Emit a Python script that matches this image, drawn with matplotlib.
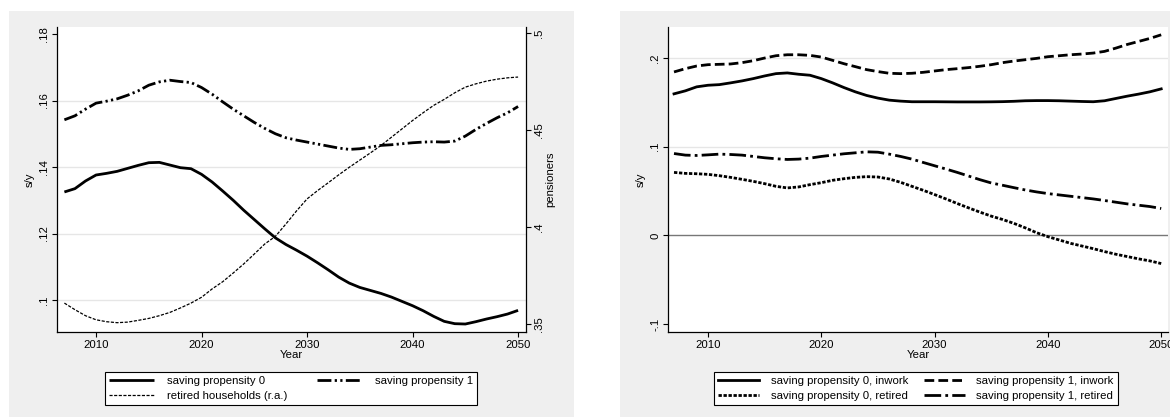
import numpy as np
import matplotlib
matplotlib.use("Agg")
import matplotlib.pyplot as plt
from matplotlib.patches import Rectangle

plt.rcParams['font.family'] = ['Liberation Sans', 'DejaVu Sans']
plt.rcParams['font.size'] = 8.2

years = list(range(2007, 2051))

# left panel: saving rate s/y and share of retired households
sp0 = [.1325, .1335, .1358, .1376, .1381, .1387, .1396, .1405, .1413, .1414,
       .1406, .1398, .1395, .1378, .1355, .1328, .1300, .1270, .1242, .1214,
       .1187, .1167, .1150, .1132, .1112, .1091, .1069, .1051, .1038, .1029,
       .1020, .1009, .0996, .0983, .0968, .0951, .0936, .0929, .0928, .0935,
       .0943, .0950, .0958, .0969]
sp1 = [.1542, .1554, .1574, .1592, .1598, .1605, .1616, .1629, .1646, .1656,
       .1661, .1657, .1654, .1639, .1619, .1596, .1574, .1554, .1534, .1516,
       .1500, .1488, .1481, .1475, .1469, .1463, .1457, .1453, .1455, .1460,
       .1465, .1467, .1470, .1473, .1475, .1476, .1475, .1478, .1493, .1513,
       .1531, .1548, .1563, .1582]
retired = [.3608, .3574, .3543, .3522, .3512, .3507, .3510, .3519, .3529, .3543,
           .3560, .3583, .3608, .3638, .3681, .3718, .3763, .3810, .3861, .3913,
           .3952, .4016, .4083, .4145, .4188, .4228, .4269, .4308, .4345, .4382,
           .4420, .4463, .4506, .4549, .4589, .4627, .4658, .4692, .4721, .4738,
           .4752, .4762, .4769, .4773]

# right panel: s/y by household type
sp0_inwork = [.1596, .1630, .1675, .1693, .1700, .1720, .1742, .1768, .1798, .1824,
              .1832, .1817, .1806, .1768, .1720, .1667, .1619, .1578, .1548, .1525,
              .1514, .1507, .1507, .1507, .1506, .1505, .1505, .1505, .1506, .1508,
              .1512, .1518, .1520, .1520, .1518, .1514, .1510, .1507, .1518, .1544,
              .1570, .1593, .1619, .1652]
sp1_inwork = [.1843, .1880, .1910, .1925, .1929, .1933, .1948, .1970, .2000, .2026,
              .2037, .2037, .2030, .2011, .1974, .1936, .1903, .1869, .1847, .1828,
              .1824, .1828, .1839, .1854, .1869, .1880, .1892, .1907, .1925, .1948,
              .1966, .1981, .1996, .2015, .2026, .2037, .2045, .2056, .2075, .2112,
              .2153, .2187, .2221, .2262]
sp0_retired = [.0710, .0699, .0695, .0688, .0673, .0654, .0632, .0609, .0583, .0553,
               .0535, .0546, .0572, .0594, .0621, .0639, .0654, .0662, .0658, .0636,
               .0598, .0553, .0508, .0460, .0411, .0359, .0310, .0262, .0217, .0179,
               .0135, .0085, .0030, -.0015, -.0052, -.0090, -.0120, -.0150, -.0183, -.0213,
               -.0239, -.0265, -.0288, -.0318]
sp1_retired = [.0923, .0905, .0901, .0908, .0916, .0912, .0905, .0890, .0875, .0864,
               .0856, .0860, .0871, .0890, .0905, .0920, .0931, .0942, .0938, .0916,
               .0890, .0860, .0822, .0785, .0748, .0710, .0669, .0628, .0591, .0565,
               .0538, .0512, .0490, .0471, .0456, .0441, .0426, .0411, .0393, .0374,
               .0355, .0340, .0325, .0303]

xticks = [2010, 2020, 2030, 2040, 2050]
left_ticks = [.1, .12, .14, .16, .18]
left_ticklabels = ['.1', '.12', '.14', '.16', '.18']
right_ticks = [.35, .4, .45, .5]
right_ticklabels = ['.35', '.4', '.45', '.5']
r_ticks = [-.1, 0, .1, .2]
r_ticklabels = ['-.1', '0', '.1', '.2']

W, H = 1170, 419
fig = plt.figure(figsize=(W / 100, H / 100), dpi=100)
fig.patch.set_facecolor('white')

bg = '#efefef'
grid_c = '#e6e6e6'
fs = 8.2
fig.add_artist(Rectangle((9 / W, 1 - 417 / H), 565 / W, 406 / H, transform=fig.transFigure,
                         facecolor=bg, edgecolor='none', zorder=-5))
fig.add_artist(Rectangle((620 / W, 1 - 417 / H), 550 / W, 406 / H, transform=fig.transFigure,
                         facecolor=bg, edgecolor='none', zorder=-5))


def fx(px):
    return px / W


def setup(ax):
    ax.set_facecolor('white')
    ax.spines['top'].set_visible(False)
    for s in ['left', 'bottom', 'right']:
        ax.spines[s].set_linewidth(0.9)
    ax.tick_params(length=3.5, width=0.8, pad=2, labelsize=fs)
    ax.set_xticks(xticks)
    ax.set_xlabel('Year', labelpad=0.5, fontsize=fs)


thick = 2.0

# ---- left panel
ax1 = fig.add_axes([fx(57), 1 - 332 / H, fx(526 - 57), 305 / H])
setup(ax1)
ax1.spines['right'].set_visible(False)
ax1.set_xlim(2006.3, 2050.75)
ax1.set_ylim(0.0904, 0.1821)
for v in [.1, .12, .14, .16]:
    ax1.axhline(v, color=grid_c, lw=1, zorder=0)
ax1.set_yticks(left_ticks)
ax1.set_yticklabels(left_ticklabels, rotation=90, va='center')
ax1.set_ylabel('s/y', labelpad=3)
l1, = ax1.plot(years, sp0, color='black', lw=thick, solid_capstyle='butt')
l2, = ax1.plot(years, sp1, color='black', lw=thick, dashes=(5, 1.2, 0.8, 1.2, 0.8, 1.2))

ax2 = ax1.twinx()
ax2.spines['top'].set_visible(False)
ax2.spines['left'].set_visible(False)
ax2.spines['bottom'].set_visible(False)
ax2.spines['right'].set_linewidth(0.9)
ax2.tick_params(length=3.5, width=0.8, pad=2, labelsize=fs)
ax2.set_ylim(0.3459, 0.5031)
ax2.set_yticks(right_ticks)
ax2.set_yticklabels(right_ticklabels, rotation=90, va='center')
ax2.set_ylabel('pensioners', labelpad=1)
l3, = ax2.plot(years, retired, color='black', lw=0.9, dashes=(2.5, 1.2))

leg1 = fig.legend([l1, l3, l2], ['saving propensity 0', 'retired households (r.a.)', 'saving propensity 1'],
                  ncol=2, loc='center', bbox_to_anchor=(fx(291), 1 - 388.5 / H),
                  frameon=True, fancybox=False, edgecolor='black', framealpha=1,
                  handlelength=4.0, handletextpad=1.1, columnspacing=2.6,
                  borderpad=0.35, labelspacing=0.4, fontsize=fs)
leg1.get_frame().set_linewidth(0.8)

# ---- right panel
ax3 = fig.add_axes([fx(668), 1 - 332 / H, fx(1168 - 668), 305 / H])
setup(ax3)
ax3.spines['right'].set_visible(False)
ax3.set_xlim(2006.47, 2050.6)
ax3.set_ylim(-0.109, 0.235)
for v in [.1, .2]:
    ax3.axhline(v, color=grid_c, lw=1, zorder=0)
ax3.axhline(0, color='#777777', lw=1, zorder=1)
ax3.set_yticks(r_ticks)
ax3.set_yticklabels(r_ticklabels, rotation=90, va='center')
ax3.set_ylabel('s/y', labelpad=3)
r1, = ax3.plot(years, sp0_inwork, color='black', lw=thick)
r2, = ax3.plot(years, sp1_inwork, color='black', lw=thick, dashes=(3.5, 1.5))
r3, = ax3.plot(years, sp0_retired, color='black', lw=thick, dashes=(1.2, 0.6))
r4, = ax3.plot(years, sp1_retired, color='black', lw=thick, dashes=(6, 1.5, 1, 1.5))

leg2 = fig.legend([r1, r3, r2, r4],
                  ['saving propensity 0, inwork', 'saving propensity 0, retired',
                   'saving propensity 1, inwork', 'saving propensity 1, retired'],
                  ncol=2, loc='center', bbox_to_anchor=(fx(916), 1 - 388.5 / H),
                  frameon=True, fancybox=False, edgecolor='black', framealpha=1,
                  handlelength=3.6, handletextpad=1.0, columnspacing=1.4,
                  borderpad=0.4, labelspacing=0.4, fontsize=fs)
leg2.get_frame().set_linewidth(0.8)

fig.savefig('out.png', dpi=100)
